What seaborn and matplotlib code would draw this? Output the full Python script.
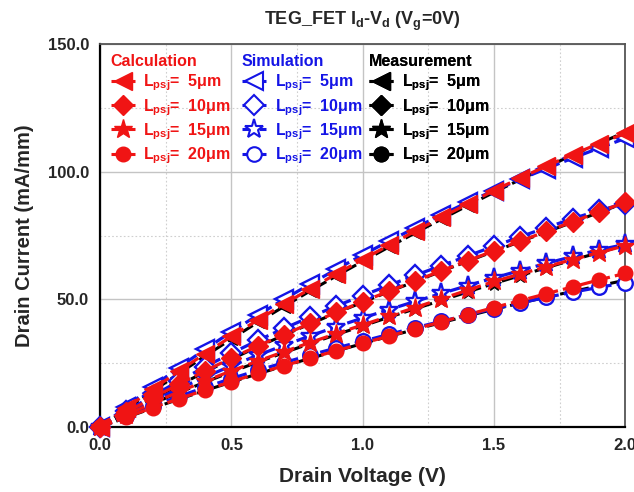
import matplotlib
matplotlib.use("Agg")
import matplotlib.pyplot as plt
import seaborn as sns
import pandas as pd
from matplotlib.lines import Line2D
from matplotlib.ticker import MultipleLocator, FormatStrFormatter

# ---------------- data ----------------
voltage = [0.0, 0.1, 0.2, 0.3, 0.4, 0.5, 0.6, 0.7, 0.8, 0.9, 1.0,
           1.1, 1.2, 1.3, 1.4, 1.5, 1.6, 1.7, 1.8, 1.9, 2.0]
lengths = ["5", "10", "15", "20"]

calc_5 = [0, 7.5, 14.8, 21.9, 28.8, 35.5, 41.9, 48.1, 54.1, 60.0, 65.6,
          71.2, 76.7, 82.1, 87.4, 92.6, 97.5, 102.2, 106.7, 111.0, 115.0]
calc_10 = [0, 5.8, 11.4, 16.8, 22.0, 27.0, 31.7, 36.2, 40.6, 44.9, 49.1,
           53.2, 57.2, 61.2, 65.1, 69.0, 72.8, 76.6, 80.4, 84.2, 88.0]
calc_15 = [0, 4.8, 9.4, 13.8, 18.0, 22.0, 25.8, 29.5, 33.1, 36.6, 40.0,
           43.4, 46.8, 50.2, 53.6, 57.0, 59.9, 62.8, 65.6, 68.3, 71.0]
calc_20 = [0, 3.9, 7.6, 11.1, 14.5, 17.8, 21.0, 24.0, 27.0, 29.9, 32.8,
           35.6, 38.4, 41.2, 44.0, 46.8, 49.5, 52.2, 54.9, 57.6, 60.2]

sim_5 = [0, 8.0, 15.8, 23.3, 30.5, 37.3, 43.8, 50.0, 56.0, 61.8, 67.4,
         72.8, 78.0, 83.1, 88.0, 92.6, 97.0, 101.2, 105.3, 109.2, 113.0]
sim_10 = [0, 6.2, 12.2, 18.0, 23.6, 28.9, 33.9, 38.6, 43.1, 47.4, 51.5,
          55.5, 59.4, 63.2, 67.0, 70.8, 74.5, 78.1, 81.6, 84.8, 87.5]
sim_15 = [0, 5.2, 10.2, 15.0, 19.6, 24.0, 28.1, 32.0, 35.7, 39.3, 42.7,
          46.0, 49.2, 52.3, 55.4, 58.4, 61.3, 64.1, 66.8, 69.4, 71.5]
sim_20 = [0, 4.2, 8.2, 12.0, 15.6, 19.0, 22.2, 25.2, 28.2, 31.0, 33.6,
          36.3, 38.9, 41.4, 43.9, 46.4, 48.6, 50.8, 52.8, 54.7, 56.5]

meas_5 = [0, 7.0, 14.0, 21.0, 27.8, 34.5, 41.0, 47.2, 53.3, 59.2, 64.9,
          70.5, 76.0, 81.4, 86.7, 91.9, 96.9, 101.8, 106.5, 111.0, 115.5]
meas_10 = [0, 5.6, 11.1, 16.4, 21.6, 26.6, 31.4, 36.0, 40.4, 44.7, 48.9,
           53.0, 57.0, 61.0, 64.9, 68.8, 72.6, 76.4, 80.2, 84.0, 87.8]
meas_15 = [0, 4.7, 9.2, 13.5, 17.6, 21.6, 25.4, 29.1, 32.7, 36.2, 39.6,
           43.0, 46.3, 49.6, 52.9, 56.2, 59.3, 62.4, 65.4, 68.3, 71.2]
meas_20 = [0, 3.8, 7.4, 10.9, 14.3, 17.6, 20.8, 23.9, 26.9, 29.8, 32.7,
           35.5, 38.2, 40.9, 43.5, 46.1, 48.5, 50.9, 53.1, 55.3, 57.5]

calc = [calc_5, calc_10, calc_15, calc_20]
sim = [sim_5, sim_10, sim_15, sim_20]
meas = [meas_5, meas_10, meas_15, meas_20]

# ---------------- style ----------------
sns.set_theme(style="white")
plt.rcParams["font.family"] = ["Liberation Sans", "DejaVu Sans"]
plt.rcParams["font.weight"] = "bold"
plt.rcParams["mathtext.fontset"] = "custom"
plt.rcParams["mathtext.rm"] = "Liberation Sans:bold"
plt.rcParams["mathtext.it"] = "Liberation Sans:bold"
plt.rcParams["mathtext.bf"] = "Liberation Sans:bold"
plt.rcParams["mathtext.default"] = "rm"

RED = "#f01414"
BLUE = "#1414e6"
BLACK = "#000000"
markers = ["<", "D", "*", "o"]
msizes = [12.5, 10, 14, 10.5]

fig = plt.figure(figsize=(6.34, 4.92), dpi=100)
ax = fig.add_axes([0.158, 0.132, 0.828, 0.7786])

dash = (0, (4, 1.6))

for i in range(4):
    df = pd.DataFrame({"V": voltage, "I": meas[i]})
    sns.lineplot(data=df, x="V", y="I", ax=ax, color=BLACK, marker=markers[i],
                 markersize=msizes[i] - 4, markerfacecolor=BLACK, markeredgecolor=BLACK,
                 linewidth=2.2, linestyle=dash, clip_on=False, zorder=3, legend=False)
for i in range(4):
    df = pd.DataFrame({"V": voltage, "I": sim[i]})
    sns.lineplot(data=df, x="V", y="I", ax=ax, color=BLUE, marker=markers[i],
                 markersize=msizes[i], markerfacecolor="white", markeredgecolor=BLUE,
                 markeredgewidth=1.7, linewidth=2.3, linestyle=dash, clip_on=False,
                 zorder=4, legend=False)
for i in range(4):
    df = pd.DataFrame({"V": voltage, "I": calc[i]})
    sns.lineplot(data=df, x="V", y="I", ax=ax, color=RED, marker=markers[i],
                 markersize=msizes[i], markerfacecolor=RED, markeredgecolor=RED,
                 markeredgewidth=1.0, linewidth=2.3, linestyle=dash, clip_on=False,
                 zorder=5, legend=False)

ax.set_xlim(0, 2.0)
ax.set_ylim(0, 150)
ax.xaxis.set_major_locator(MultipleLocator(0.5))
ax.xaxis.set_minor_locator(MultipleLocator(0.25))
ax.yaxis.set_major_locator(MultipleLocator(50))
ax.yaxis.set_minor_locator(MultipleLocator(25))
ax.xaxis.set_major_formatter(FormatStrFormatter("%.1f"))
ax.yaxis.set_major_formatter(FormatStrFormatter("%.1f"))

ax.grid(True, which="major", color="#c4c4c4", linewidth=1.0, linestyle="-")
ax.grid(True, which="minor", color="#cfcfcf", linewidth=0.8, linestyle=(0, (1.5, 2)))
ax.set_axisbelow(True)

ax.tick_params(axis="both", which="major", direction="out", length=5, width=1.2,
               labelsize=12, color="#333333", pad=3)
ax.tick_params(axis="both", which="minor", direction="out", length=3, width=1.0,
               color="#333333")
ax.tick_params(top=False, right=False, which="both")
for lab in ax.get_xticklabels() + ax.get_yticklabels():
    lab.set_fontweight("bold")

for s in ["left", "bottom"]:
    ax.spines[s].set_color("black")
    ax.spines[s].set_linewidth(1.6)
for s in ["top", "right"]:
    ax.spines[s].set_color("#555555")
    ax.spines[s].set_linewidth(1.3)

ax.set_xlabel("Drain Voltage (V)", fontsize=15, fontweight="bold", labelpad=10)
ax.set_ylabel("Drain Current (mA/mm)", fontsize=14.5, fontweight="bold", labelpad=10)
ax.set_title("TEG_FET I$_d$-V$_d$ (V$_g$=0V)", fontsize=13, fontweight="bold", pad=14)

# ---------------- legends ----------------
labels = ["L$_{psj}$=  " + L + "μm" for L in lengths]


def make_handles(color, filled):
    hs = []
    for i in range(4):
        hs.append(Line2D([], [], color=color, marker=markers[i], markersize=msizes[i],
                         markerfacecolor=color if filled else "white",
                         markeredgecolor=color, markeredgewidth=1.5 if not filled else 1.0,
                         linewidth=2.2, linestyle=dash))
    return hs


groups = [("Calculation", RED, True, 0.0),
          ("Simulation", BLUE, False, 0.25),
          ("Measurement", BLACK, True, 0.493)]
for title, color, filled, xpos in groups:
    leg = ax.legend(make_handles(color, filled), labels, loc="upper left",
                    bbox_to_anchor=(xpos, 1.0), frameon=False, title=title,
                    fontsize=11.5, title_fontsize=11.5, handlelength=1.5,
                    handletextpad=0.55, labelspacing=0.22, borderaxespad=0.25,
                    alignment="left", numpoints=1)
    leg.get_title().set_color(color)
    leg.get_title().set_fontweight("bold")
    for t in leg.get_texts():
        t.set_color(color)
        t.set_fontweight("bold")
    ax.add_artist(leg)

fig.savefig("out.png", dpi=100)
